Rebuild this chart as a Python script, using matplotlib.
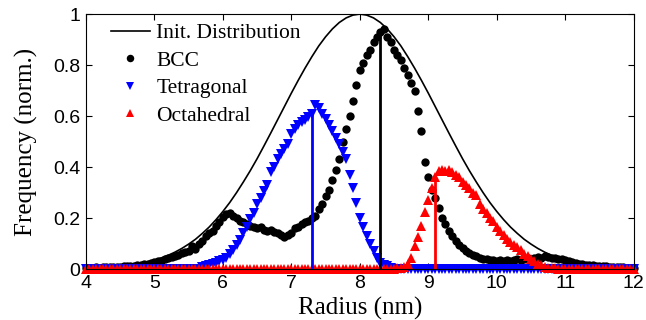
import numpy as np
import matplotlib
matplotlib.use("Agg")
import matplotlib.pyplot as plt

# radius grid of the particle histograms (nm), 0.05 nm bins from 4 to 12
radius = np.linspace(4, 12, 161)

bcc = [0.005, 0.006, 0.005, 0.007, 0.006, 0.008, 0.007, 0.009, 0.008, 0.010,
       0.010, 0.011, 0.012, 0.014, 0.013, 0.016, 0.018, 0.020, 0.022, 0.025,
       0.027, 0.030, 0.033, 0.038, 0.042, 0.047, 0.050, 0.056, 0.062, 0.066,
       0.072, 0.090, 0.080, 0.098, 0.112, 0.128, 0.140, 0.150, 0.168, 0.185,
       0.205, 0.215, 0.222, 0.210, 0.200, 0.190, 0.185, 0.175, 0.170, 0.165,
       0.160, 0.165, 0.155, 0.150, 0.152, 0.145, 0.140, 0.132, 0.125, 0.135,
       0.140, 0.160, 0.165, 0.175, 0.185, 0.190, 0.200, 0.210, 0.235, 0.255,
       0.285, 0.310, 0.350, 0.390, 0.430, 0.500, 0.550, 0.600, 0.660, 0.720,
       0.780, 0.810, 0.840, 0.860, 0.890, 0.910, 0.930, 0.940, 0.910, 0.890,
       0.860, 0.840, 0.820, 0.790, 0.760, 0.730, 0.700, 0.620, 0.540, 0.420,
       0.360, 0.310, 0.280, 0.240, 0.200, 0.175, 0.150, 0.130, 0.110, 0.095,
       0.082, 0.070, 0.062, 0.055, 0.050, 0.045, 0.040, 0.038, 0.035, 0.034,
       0.033, 0.035, 0.032, 0.036, 0.030, 0.034, 0.038, 0.035, 0.040, 0.042,
       0.040, 0.045, 0.048, 0.044, 0.050, 0.046, 0.042, 0.045, 0.040, 0.038,
       0.035, 0.030, 0.028, 0.025, 0.022, 0.020, 0.018, 0.016, 0.015, 0.014,
       0.013, 0.012, 0.011, 0.010, 0.010, 0.009, 0.008, 0.007, 0.006, 0.006,
       0.005]

tetragonal = ([0.0] * 34 +
              [0.010, 0.013, 0.016, 0.020, 0.025, 0.030,
               0.035, 0.045, 0.060, 0.075, 0.095, 0.115, 0.140, 0.165, 0.195, 0.220,
               0.255, 0.280, 0.305, 0.330, 0.380, 0.400, 0.430, 0.450, 0.470, 0.490,
               0.530, 0.550, 0.565, 0.575, 0.585, 0.595, 0.610, 0.645, 0.630, 0.610,
               0.590, 0.565, 0.540, 0.515, 0.490, 0.460, 0.430, 0.370, 0.320, 0.260,
               0.200, 0.165, 0.130, 0.100, 0.070, 0.045, 0.025, 0.018, 0.012, 0.006] +
              [0.0] * 71)

octahedral = ([0.0] * 91 +
              [0.004, 0.006, 0.010, 0.020, 0.045, 0.090, 0.125, 0.170, 0.225,
               0.270, 0.320, 0.360, 0.385, 0.390, 0.385, 0.390, 0.380, 0.370, 0.360,
               0.340, 0.330, 0.320, 0.300, 0.290, 0.255, 0.235, 0.220, 0.200, 0.190,
               0.165, 0.150, 0.135, 0.120, 0.105, 0.095, 0.085, 0.075, 0.060, 0.050,
               0.040, 0.030, 0.022, 0.016, 0.010, 0.006, 0.004, 0.003, 0.002, 0.001] +
              [0.0] * 21)

# initial size distribution, 0.1 nm steps
init_r = np.linspace(4, 12, 81)
init_dist = [0.003, 0.0035, 0.005, 0.006, 0.008, 0.0105, 0.014, 0.0175, 0.022, 0.028,
             0.035, 0.044, 0.054, 0.0665, 0.081, 0.098, 0.117, 0.140, 0.165, 0.194,
             0.226, 0.261, 0.300, 0.342, 0.386, 0.433, 0.483, 0.534, 0.586, 0.638,
             0.690, 0.740, 0.788, 0.833, 0.875, 0.911, 0.942, 0.967, 0.985, 0.996,
             1.000,
             0.996, 0.985, 0.967, 0.942, 0.911, 0.875, 0.833, 0.788, 0.740, 0.690,
             0.638, 0.586, 0.534, 0.483, 0.433, 0.386, 0.342, 0.300, 0.261, 0.226,
             0.194, 0.165, 0.140, 0.117, 0.098, 0.081, 0.0665, 0.054, 0.044, 0.035,
             0.028, 0.022, 0.0175, 0.014, 0.0105, 0.008, 0.006, 0.005, 0.0035, 0.003]

# mean radius of each phase and its height
mean_r = [8.3, 7.3, 9.1]
mean_h = [0.93, 0.62, 0.36]
mean_col = ['k', 'b', 'r']

fig = plt.figure(figsize=(6.46, 3.2), dpi=100)
ax = fig.add_axes([0.133, 0.159, 0.848, 0.797])

ax.plot(init_r, init_dist, 'k-', lw=1.2, label='Init. Distribution')
ax.plot(radius, bcc, 'ko', ms=6, mew=0, clip_on=False, label='BCC')
ax.plot(radius, tetragonal, 'bv', ms=6.5, mew=0, clip_on=False, label='Tetragonal')
ax.plot(radius, octahedral, 'r^', ms=6.5, mew=0, clip_on=False, label='Octahedral')
for r, h, c in zip(mean_r, mean_h, mean_col):
    ax.plot([r, r], [0, h], color=c, lw=2.0, zorder=5)

ax.set_xlim(4, 12)
ax.set_ylim(0, 1)
ax.set_xticks(range(4, 13))
ax.set_yticks([0, 0.2, 0.4, 0.6, 0.8, 1])
ax.set_yticklabels(['0', '0.2', '0.4', '0.6', '0.8', '1'])
ax.tick_params(direction='in', top=True, right=True, length=4, width=0.8,
               labelsize=14, pad=4)
for t in ax.get_xticklabels() + ax.get_yticklabels():
    t.set_fontfamily('Liberation Sans')
for s in ax.spines.values():
    s.set_linewidth(0.8)

ax.set_xlabel('Radius (nm)', family='Liberation Serif', fontsize=18, labelpad=4)
ax.set_ylabel('Frequency (norm.)', family='Liberation Serif', fontsize=18, labelpad=11)

leg = ax.legend(loc='upper left', bbox_to_anchor=(0.046, 0.965), frameon=False,
                prop={'family': 'Liberation Serif', 'size': 15.5},
                handlelength=1.8, handletextpad=0.3, labelspacing=0.35,
                borderaxespad=0, borderpad=0, numpoints=1, markerscale=0.9)

fig.savefig('out.png', dpi=100)
